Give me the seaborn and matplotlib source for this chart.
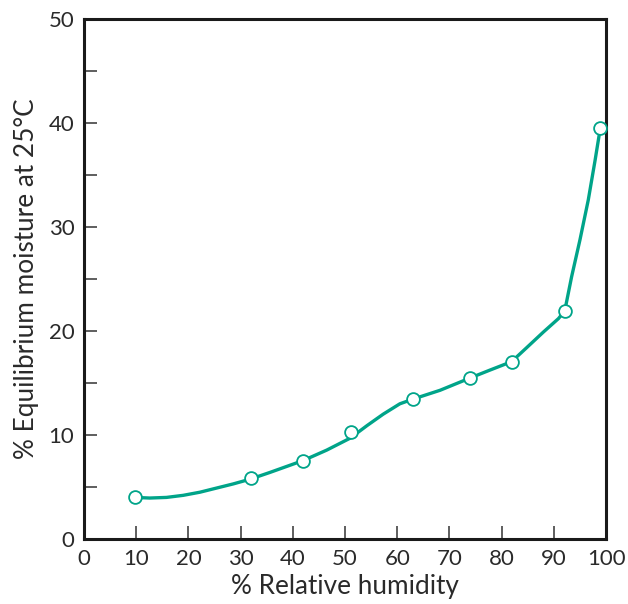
import matplotlib
matplotlib.use("Agg")
import matplotlib.pyplot as plt
import pandas as pd
import seaborn as sns
from matplotlib.ticker import MultipleLocator

humidity = [9.7, 32.0, 42.0, 51.1, 63.0, 73.9, 82.0, 92.1, 98.9]
moisture = [4.0, 5.9, 7.5, 10.3, 13.5, 15.5, 17.0, 21.9, 39.5]

# hand-drawn smooth curve through the points
curve_x = [9.7, 12.6, 15.8, 19.0, 22.2, 25.4, 28.6, 31.8, 35.6, 39.5, 42.0,
           46.5, 51.0, 54.2, 57.3, 60.5, 63.0, 68.2, 73.8, 77.8, 81.9,
           84.8, 88.0, 90.9, 92.1, 93.4, 95.0, 96.6, 97.9, 98.9]
curve_y = [4.0, 3.94, 4.0, 4.2, 4.5, 4.9, 5.3, 5.75, 6.4, 7.1, 7.55,
           8.55, 9.7, 10.9, 12.0, 13.0, 13.45, 14.3, 15.45, 16.25, 17.05,
           18.4, 19.9, 21.2, 21.95, 25.2, 28.75, 32.6, 36.4, 39.5]

x_ticks = [0, 10, 20, 30, 40, 50, 60, 70, 80, 90, 100]
y_ticks = [0, 10, 20, 30, 40, 50]

teal = "#00a489"

sns.set_theme(style="ticks")
plt.rcParams["font.family"] = ["Lato", "DejaVu Sans"]

points = pd.DataFrame({"rh": humidity, "moist": moisture})
curve = pd.DataFrame({"rh": curve_x, "moist": curve_y})

fig = plt.figure(figsize=(6.28, 6.04), dpi=100)
ax = fig.add_axes([0.1338, 0.1076, 0.8312, 0.8609])

sns.lineplot(data=curve, x="rh", y="moist", sort=False, color=teal,
             linewidth=2.4, ax=ax, zorder=2)
ax.plot(points["rh"], points["moist"], linestyle="none", marker="o",
        markersize=9.2, markerfacecolor="white", markeredgecolor=teal,
        markeredgewidth=1.3, zorder=3, clip_on=False)

ax.set_xlim(0, 100)
ax.set_ylim(0, 50)
ax.set_xticks(x_ticks)
ax.set_yticks(y_ticks)
ax.yaxis.set_minor_locator(MultipleLocator(5))

for side in ["left", "right", "top", "bottom"]:
    ax.spines[side].set_visible(True)
    ax.spines[side].set_linewidth(2.2)
    ax.spines[side].set_color("#1a1a1a")

ax.tick_params(axis="both", which="both", direction="in", length=9.5,
               width=1.1, color="#333333", labelsize=16, labelcolor="#2a2a2a")
ax.tick_params(axis="x", pad=7)
ax.tick_params(axis="y", pad=7)
ax.tick_params(right=False, top=False, which="both")

ax.set_xlabel("% Relative humidity", fontsize=18.8, color="#2a2a2a", labelpad=4)
ax.set_ylabel("% Equilibrium moisture at 25°C", fontsize=18.8, color="#2a2a2a",
              labelpad=7)

fig.savefig("out.png", dpi=100)
